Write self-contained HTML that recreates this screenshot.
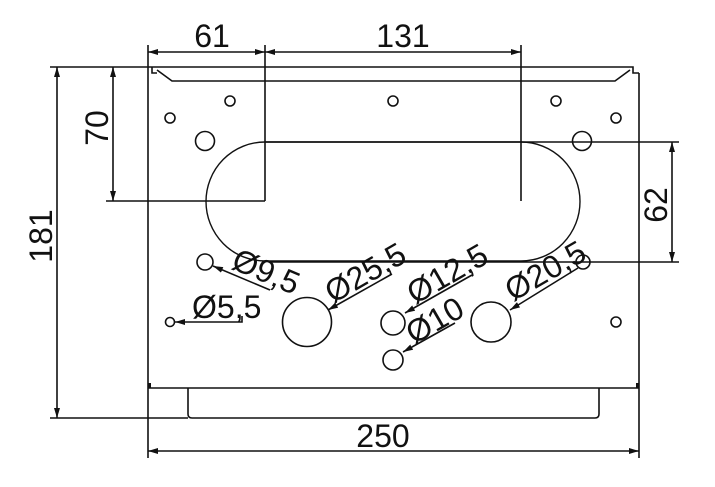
<!DOCTYPE html>
<html><head><style>
html,body{margin:0;padding:0;background:#fff;}
svg{display:block;}
text{font-family:"Liberation Sans",Arial,sans-serif;fill:#111;}
</style></head><body>
<svg width="715" height="487" viewBox="0 0 715 487" xmlns="http://www.w3.org/2000/svg">
<defs>
<marker id="a" viewBox="0 0 10 6" refX="10" refY="3" markerWidth="10" markerHeight="6" markerUnits="userSpaceOnUse" orient="auto"><path d="M0,0 L10,3 L0,6 z" fill="#111"/></marker>
<marker id="b" viewBox="0 0 10 6" refX="0" refY="3" markerWidth="10" markerHeight="6" markerUnits="userSpaceOnUse" orient="auto"><path d="M10,0 L0,3 L10,6 z" fill="#111"/></marker>
</defs>
<g stroke="#111" stroke-width="1.6" fill="none">
<line x1="148" y1="45" x2="148" y2="458"/>
<line x1="639" y1="73" x2="639" y2="458"/>
<path d="M148,67 L633,67 L633,73 L639,73"/>
<path d="M152,67 L152,73 L157,73 M157,70 L172,81 L615,81 L630,70"/>
<line x1="148" y1="388" x2="639" y2="388"/>
<path d="M188,388 L188,414 Q188,418 192,418 L595,418 Q599,418 599,414 L599,388"/>
<rect x="148" y="383" width="3" height="5" fill="#111" stroke="none"/>
<rect x="636" y="383" width="3" height="5" fill="#111" stroke="none"/>
<path d="M265,142 L521,142 A59,59.5 0 0 1 521,261 L265,261 A59,59.5 0 0 1 265,142 Z" stroke-width="1.4"/>
<circle cx="230" cy="101" r="5"/><circle cx="393" cy="101" r="5"/><circle cx="556" cy="101" r="5"/>
<circle cx="170" cy="118" r="5"/><circle cx="616" cy="118" r="5"/>
<circle cx="205" cy="141" r="9.5"/><circle cx="582" cy="141" r="9.5"/>
<circle cx="205" cy="262" r="8"/><circle cx="583" cy="262" r="7"/>
<circle cx="170" cy="322" r="4.5"/><circle cx="307" cy="322" r="24.5"/>
<circle cx="393" cy="323" r="12"/><circle cx="491" cy="322" r="20"/>
<circle cx="393" cy="360" r="10"/><circle cx="616" cy="322" r="5"/>
<line x1="50" y1="67" x2="148" y2="67"/>
<line x1="50" y1="418" x2="188" y2="418"/>
<line x1="57" y1="67" x2="57" y2="418" marker-start="url(#b)" marker-end="url(#a)"/>
<line x1="106" y1="201" x2="265" y2="201"/>
<line x1="113" y1="67" x2="113" y2="201" marker-start="url(#b)" marker-end="url(#a)"/>
<line x1="265" y1="45" x2="265" y2="201"/>
<line x1="521" y1="45" x2="521" y2="201"/>
<line x1="148" y1="52" x2="265" y2="52" marker-start="url(#b)" marker-end="url(#a)"/>
<line x1="265" y1="52" x2="521" y2="52" marker-start="url(#b)" marker-end="url(#a)"/>
<line x1="265" y1="142" x2="679" y2="142"/>
<line x1="270" y1="262" x2="679" y2="262"/>
<line x1="672" y1="142" x2="672" y2="262" marker-start="url(#b)" marker-end="url(#a)"/>
<line x1="148" y1="451" x2="639" y2="451" marker-start="url(#b)" marker-end="url(#a)"/>
<path d="M270,290 L213,266" marker-end="url(#a)"/>
<path d="M242,316 L242,322 L175,322" marker-end="url(#a)"/>
<path d="M392,274 L328,310" marker-end="url(#a)"/>
<path d="M472,275 L405,313" marker-end="url(#a)"/>
<path d="M455,323 L403,352" marker-end="url(#a)"/>
<path d="M578,268 L510,310" marker-end="url(#a)"/>
</g>
<g font-size="32">
<text x="212" y="47" text-anchor="middle">61</text>
<text x="403" y="47" text-anchor="middle">131</text>
<text x="383" y="447" text-anchor="middle">250</text>
<text transform="translate(52,236) rotate(-90)" text-anchor="middle">181</text>
<text transform="translate(108,128) rotate(-90)" text-anchor="middle">70</text>
<text transform="translate(667,205) rotate(-90)" text-anchor="middle">62</text>
<text x="192" y="318">Ø5,5</text>
<text transform="translate(230,268) rotate(23)">Ø9,5</text>
<text transform="translate(333,304) rotate(-30)">Ø25,5</text>
<text transform="translate(415,305) rotate(-30)">Ø12,5</text>
<text transform="translate(414,345) rotate(-30)">Ø10</text>
<text transform="translate(513,302) rotate(-30)">Ø20,5</text>
</g>
</svg>
</body></html>
